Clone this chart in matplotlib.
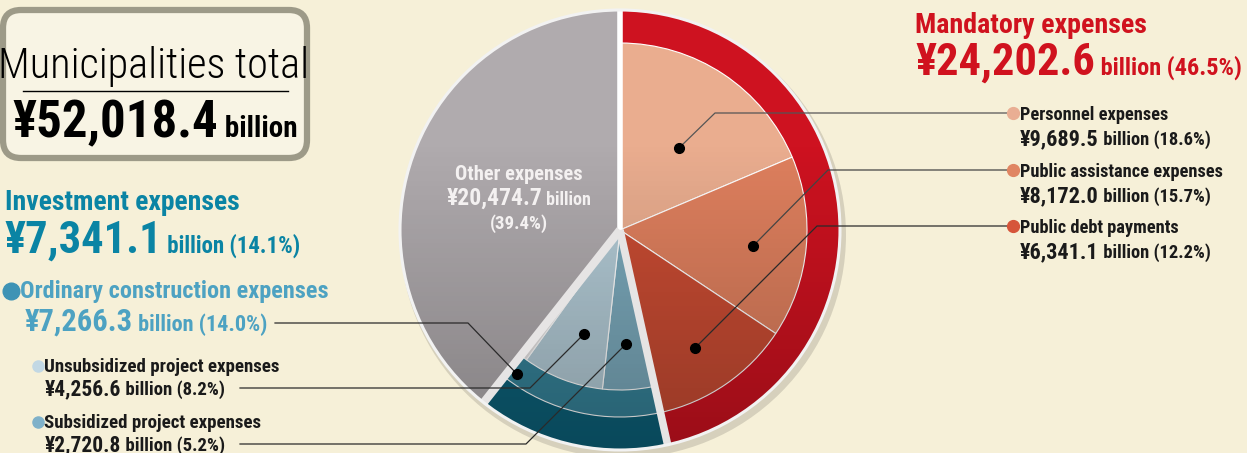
import matplotlib
matplotlib.use("Agg")
import matplotlib.pyplot as plt
from matplotlib import font_manager
from matplotlib.patches import FancyBboxPatch, Circle
import numpy as np

W, H = 1247, 453

# values in billion yen
total = 52018.4
main_labels = ["Mandatory expenses", "Investment expenses", "Other expenses"]
main_values = [24202.6, 7341.1, 20474.7]
main_pcts = [46.5, 14.1, 39.4]
mand_labels = ["Personnel expenses", "Public assistance expenses", "Public debt payments"]
mand_values = [9689.5, 8172.0, 6341.1]
mand_pcts = [18.6, 15.7, 12.2]
ordinary_label = "Ordinary construction expenses"
ordinary_value = 7266.3
ordinary_pct = 14.0
proj_labels = ["Unsubsidized project expenses", "Subsidized project expenses"]
proj_values = [4256.6, 2720.8]
proj_pcts = [8.2, 5.2]

bg = "#F6F0D8"
red = "#CE1220"
mand_colors = ["#EAAD8F", "#DF805E", "#C94C33"]
teal_dark = "#0D6179"
teal_mid = "#368298"
proj_colors = ["#B3CBD6", "#7BA9BB"]
grey = "#B0ABAE"
gap = "#E6E4E4"

# pick a condensed family that has a bold face
fonts = font_manager.fontManager.ttflist
cands = ["Roboto Condensed", "Archivo Narrow", "PT Sans Narrow", "Asap Condensed",
         "Fira Sans Condensed", "Barlow Condensed", "Liberation Sans Narrow", "Liberation Sans"]
FAM = "DejaVu Sans"
for c in cands:
    if any(f.name == c and f.weight in (700, "bold") for f in fonts):
        FAM = c
        break
has_light = any(f.name == FAM and f.weight in (300, "light") for f in fonts)
plt.rcParams["font.family"] = [FAM, "DejaVu Sans"]

fig = plt.figure(figsize=(W / 100, H / 100), dpi=100, facecolor=bg)
ax = fig.add_axes([0, 0, 1, 1])
ax.set_facecolor(bg)


def Y(y):
    # pixel row (from top) -> data y
    return H - y


cx, cy, R = 620, Y(230), 220

# shadow
ax.add_patch(Circle((cx + 3, cy - 5), R + 3, color="black", alpha=0.13, lw=0, zorder=0))

wp = dict(edgecolor="white", linewidth=0.8)
ax.pie(main_values, radius=R, center=(cx, cy), startangle=90, counterclock=False,
       colors=[red, teal_dark, grey], wedgeprops=wp)

inv_rest = main_values[1] - ordinary_value
w2, _ = ax.pie([sum(mand_values), ordinary_value, inv_rest, main_values[2]], radius=187,
               center=(cx, cy), startangle=90, counterclock=False,
               colors=["none", teal_mid, teal_dark, grey], wedgeprops=wp)
for i in (0, 3):
    w2[i].set_visible(False)

ord_rest = ordinary_value - sum(proj_values)
proj_rev = proj_values[::-1]
w3, _ = ax.pie(mand_values + proj_rev + [ord_rest, inv_rest, main_values[2]], radius=160,
               center=(cx, cy), startangle=90, counterclock=False,
               colors=["none"] * 3 + proj_colors[::-1] + [gap, gap, grey], wedgeprops=wp)
for i in (0, 1, 2, 7):
    w3[i].set_visible(False)

# mandatory sub-wedges reach to the red ring
w4, _ = ax.pie(mand_values + [main_values[1], main_values[2]], radius=187, center=(cx, cy),
               startangle=90, counterclock=False, colors=mand_colors + ["none", "none"],
               wedgeprops=wp)
for i in (3, 4):
    w4[i].set_visible(False)

# darker shading towards the bottom, clipped to the disc
yy = np.linspace(0, 1, 200)[:, None] * np.ones((1, 200))
shade = np.zeros((200, 200, 4))
shade[..., 3] = 0.25 * np.clip(yy - 0.3, 0, None) / 0.7
im = ax.imshow(shade, extent=(cx - R, cx + R, cy - R, cy + R), origin="upper", zorder=3)
disc = Circle((cx, cy), R, transform=ax.transData)
im.set_clip_path(disc)

ax.add_patch(Circle((cx, cy), R, fill=False, ec="#F2F2F2", lw=2.2, zorder=5))

# separators between the main blocks
ang = 90.0
seps = []
for v in main_values:
    seps.append(ang)
    ang -= v / total * 360
for a, c, w in zip(seps, ["white", gap, gap], [4.0, 5.5, 6.0]):
    t = np.deg2rad(a)
    ax.plot([cx, cx + R * np.cos(t)], [cy, cy + R * np.sin(t)], color=c, lw=w,
            solid_capstyle="butt", zorder=4)

ax.set_xlim(0, W)
ax.set_ylim(0, H)
ax.set_aspect("auto")
ax.axis("off")

renderer = fig.canvas.get_renderer()


def two_part(x, y, big, small, s1, s2, color):
    t = ax.text(x, Y(y), big, fontsize=s1, fontweight="bold", color=color,
                va="baseline", ha="left", zorder=10)
    x1 = t.get_window_extent(renderer).x1
    ax.text(x1, Y(y), small, fontsize=s2, fontweight="bold", color=color,
            va="baseline", ha="left", zorder=10)


def leader(pts, col="#2a2a2a"):
    xs = [p[0] for p in pts]
    ys = [Y(p[1]) for p in pts]
    ax.plot(xs, ys, color=col, lw=0.9, zorder=8)
    ax.plot(xs[-1], ys[-1], "o", color="black", ms=7, zorder=9)


# title box
box = FancyBboxPatch((3, Y(158)), 304, 148, boxstyle="round,pad=0,rounding_size=18",
                     fc="#F8F4E4", ec="#9D9A88", lw=4.5, zorder=6)
ax.add_patch(box)
ax.text(154, Y(78), "Municipalities total", fontsize=30.5, color="black",
        fontweight="light" if has_light else "normal",
        ha="center", va="baseline", zorder=10)
ax.plot([23, 288], [Y(91), Y(91)], color="black", lw=1, zorder=10)
two_part(12, 137, "¥" + f"{total:,.1f}", " billion", 36.5, 21, "black")

# mandatory side
mc = "#D0121E"
ax.text(915, Y(33), main_labels[0], fontsize=20.2, fontweight="bold", color=mc,
        va="baseline", zorder=10)
two_part(915, 75, "¥" + f"{main_values[0]:,.1f}", " billion (" + f"{main_pcts[0]}" + "%)",
         32, 17.5, mc)
rows = [113, 170, 226]
bullet_cols = ["#E9AE93", "#E08562", "#D6553A"]
for lab, v, p, ry, bc in zip(mand_labels, mand_values, mand_pcts, rows, bullet_cols):
    ax.plot(1013, Y(ry), "o", color=bc, ms=8.5, zorder=10)
    ax.text(1020, Y(ry + 7), lab, fontsize=13.2, fontweight="bold", color="#1a1a1a",
            va="baseline", zorder=10)
    two_part(1020, ry + 32, "¥" + f"{v:,.1f}", " billion (" + f"{p}" + "%)", 16, 13.3, "#1a1a1a")

leader([(1010, 113), (715, 113), (679, 148)], "#555555")
leader([(1010, 170), (828, 170), (753, 246)], "#444444")
leader([(1010, 226), (817, 226), (695, 348)])

# other expenses label
oc = "#F4F1F1"
ax.text(519, Y(180), main_labels[2], fontsize=14.8, fontweight="bold", color=oc,
        ha="center", va="baseline", zorder=10)
t = ax.text(0, Y(205), "¥" + f"{main_values[2]:,.1f}", fontsize=17, fontweight="bold",
            color=oc, va="baseline", zorder=10)
t2 = ax.text(0, Y(205), " billion", fontsize=13, fontweight="bold", color=oc,
             va="baseline", zorder=10)
wa = t.get_window_extent(renderer).width
wb = t2.get_window_extent(renderer).width
t.set_x(519 - (wa + wb) / 2)
t2.set_x(519 - (wa + wb) / 2 + wa)
ax.text(519, Y(229), "(" + f"{main_pcts[2]}" + "%)", fontsize=13.5, fontweight="bold",
        color=oc, ha="center", va="baseline", zorder=10)

# investment side
inv_col = "#0A84A4"
ord_col = "#4DA2C2"
ax.text(5, Y(210), main_labels[1], fontsize=20, fontweight="bold", color=inv_col,
        va="baseline", zorder=10)
two_part(4, 253, "¥" + f"{main_values[1]:,.1f}", " billion (" + f"{main_pcts[1]}" + "%)",
         32, 16.5, inv_col)
ax.plot(11, Y(291), "o", color="#3E93B5", ms=12, zorder=10)
ax.text(20, Y(298), ordinary_label, fontsize=17.5, fontweight="bold", color=ord_col,
        va="baseline", zorder=10)
two_part(25, 331, "¥" + f"{ordinary_value:,.1f}", " billion (" + f"{ordinary_pct}" + "%)",
         22, 16, ord_col)
leader([(275, 323), (468, 323), (517, 374)])

prow = [372, 428]
pbul = ["#C2D8E4", "#7FB1C9"]
for lab, v, p, ry, bc in zip(proj_labels, proj_values, proj_pcts, prow, pbul):
    ax.plot(38, Y(ry - 6), "o", color=bc, ms=8, zorder=10)
    ax.text(44, Y(ry), lab, fontsize=13.6, fontweight="bold", color="#1a1a1a",
            va="baseline", zorder=10)
    two_part(45, ry + 23, "¥" + f"{v:,.1f}", " billion (" + f"{p}" + "%)", 15.5, 13.5, "#1a1a1a")

leader([(240, 388), (530, 388), (584, 334)])
leader([(240, 444), (526, 444), (626, 344)])

fig.savefig("out.png", dpi=100, facecolor=bg)
